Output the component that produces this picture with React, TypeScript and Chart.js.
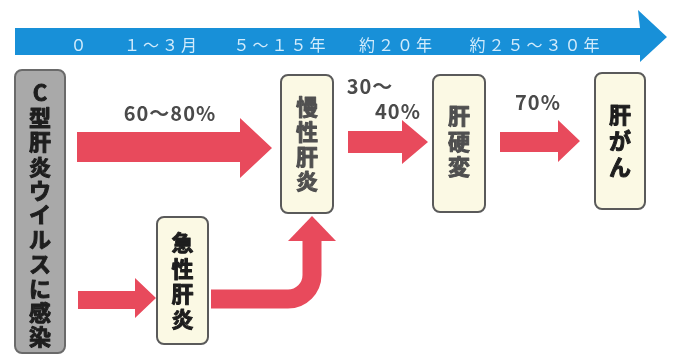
import { useEffect, useRef } from 'react';
import { Chart, registerables } from 'chart.js';

Chart.register(...registerables);

// ---- data ----
const timelineLabels = ['０', '１〜３月', '５〜１５年', '約２０年', '約２５〜３０年'];
const stageNames = ['C型肝炎ウイルスに感染', '急性肝炎', '慢性肝炎', '肝硬変', '肝がん'];
const transitionRates = ['60〜80%', '30〜', '40%', '70%'];

// ---- layout (in scale units; scales span 0..674 x 0..356) ----
const W = 674;
const H = 356;
const timelineX = [80, 162, 281, 397, 536];
const timelineY = 45;
// boxes: [x1, y1, x2, y2, charSpacing, firstCharY]
const boxLayout = [
  [15, 70, 65, 353, 24.4, 93],
  [157, 217, 208, 344, 25.3, 243],
  [281, 75, 333, 213, 24.7, 107],
  [433, 75, 485, 212, 25.5, 116],
  [595, 73, 645, 209, 26, 115],
];
const rateLayout = [
  [170, 113],
  [370, 86],
  [398, 111],
  [538, 102],
];
// straight arrows: [xStart, xTip, headBaseX, shaftTop, shaftBottom, headTop, headBottom]
const arrowLayout = [
  [77, 272, 240, 132, 162, 118, 178],
  [78, 156, 135, 291, 309, 278, 318],
  [348, 428, 402, 131, 153, 120, 164],
  [500, 580, 558, 132, 152, 120, 162],
];

const RED = '#e84a5c';

const diagramPlugin = {
  id: 'diagram',
  afterDraw(chart: any) {
    const ctx: CanvasRenderingContext2D = chart.ctx;
    const xs = chart.scales.x;
    const ys = chart.scales.y;
    const px = (v: number) => xs.getPixelForValue(v);
    const py = (v: number) => ys.getPixelForValue(v);
    ctx.save();

    // timeline arrow
    ctx.fillStyle = '#1890d8';
    ctx.beginPath();
    ctx.moveTo(px(15), py(28));
    ctx.lineTo(px(640), py(28));
    ctx.lineTo(px(638), py(10));
    ctx.lineTo(px(667), py(37));
    ctx.lineTo(px(640), py(62));
    ctx.lineTo(px(640), py(55));
    ctx.lineTo(px(15), py(55));
    ctx.closePath();
    ctx.fill();

    ctx.fillStyle = '#d2ebfb';
    ctx.font = '16px "Noto Sans CJK JP", sans-serif';
    (ctx as any).letterSpacing = '3px';
    ctx.textAlign = 'center';
    ctx.textBaseline = 'middle';
    timelineLabels.forEach((t, i) => {
      ctx.fillText(t, px(timelineX[i]), py(timelineY));
    });
    (ctx as any).letterSpacing = '0px';

    // straight arrows
    ctx.fillStyle = RED;
    arrowLayout.forEach(([x0, tip, hb, st, sb, ht, hbtm]) => {
      const mid = (ht + hbtm) / 2;
      ctx.beginPath();
      ctx.moveTo(px(x0), py(st));
      ctx.lineTo(px(hb), py(st));
      ctx.lineTo(px(hb), py(ht));
      ctx.lineTo(px(tip), py(mid));
      ctx.lineTo(px(hb), py(hbtm));
      ctx.lineTo(px(hb), py(sb));
      ctx.lineTo(px(x0), py(sb));
      ctx.closePath();
      ctx.fill();
    });

    // curved arrow from acute hepatitis up to chronic hepatitis
    ctx.strokeStyle = RED;
    ctx.lineWidth = 19;
    ctx.lineCap = 'butt';
    ctx.lineJoin = 'miter';
    ctx.beginPath();
    ctx.moveTo(px(211), py(299));
    ctx.arcTo(px(312), py(299), px(312), py(240), 24);
    ctx.lineTo(px(312), py(240));
    ctx.stroke();
    ctx.beginPath();
    ctx.moveTo(px(288), py(241));
    ctx.lineTo(px(312), py(216));
    ctx.lineTo(px(336), py(241));
    ctx.closePath();
    ctx.fill();

    // boxes
    boxLayout.forEach(([x1, y1, x2, y2, sp, fy], i) => {
      const first = i === 0;
      ctx.beginPath();
      (ctx as any).roundRect(px(x1), py(y1), px(x2) - px(x1), py(y2) - py(y1), 7);
      ctx.fillStyle = first ? '#a9a9a9' : '#fbf9e4';
      ctx.fill();
      ctx.lineWidth = 2;
      ctx.strokeStyle = first ? '#6a6a6a' : '#5a5a5a';
      ctx.stroke();

      const chars = Array.from(stageNames[i]);
      const col = i === 0 || i === 1 || i === 4 ? '#1e1e1e' : '#505050';
      ctx.fillStyle = col;
      ctx.strokeStyle = col;
      ctx.lineWidth = 1;
      ctx.lineJoin = 'round';
      ctx.font = 'bold 22px "Noto Sans CJK JP", sans-serif';
      ctx.textAlign = 'center';
      ctx.textBaseline = 'middle';
      const cx = (x1 + x2) / 2;
      chars.forEach((c, k) => {
        ctx.fillText(c, px(cx), py(fy + k * sp));
        ctx.strokeText(c, px(cx), py(fy + k * sp));
      });
    });

    // transition rates
    ctx.fillStyle = '#4a4a4a';
    ctx.font = 'bold 20px "Noto Sans CJK JP", sans-serif';
    (ctx as any).letterSpacing = '1px';
    ctx.textAlign = 'center';
    ctx.textBaseline = 'middle';
    transitionRates.forEach((t, i) => {
      ctx.fillText(t, px(rateLayout[i][0]), py(rateLayout[i][1]));
    });
    (ctx as any).letterSpacing = '0px';

    ctx.restore();
  },
};

export default function App() {
  const ref = useRef<HTMLCanvasElement | null>(null);
  useEffect(() => {
    document.body.style.margin = '0';
    document.body.style.background = '#ffffff';
    const canvas = ref.current;
    if (!canvas) return;
    const chart = new Chart(canvas, {
      type: 'scatter',
      data: { datasets: [{ data: [], pointRadius: 0 }] },
      options: {
        animation: false,
        responsive: false,
        devicePixelRatio: 1,
        layout: { padding: 0 },
        scales: {
          x: { type: 'linear', min: 0, max: W, display: false },
          y: { type: 'linear', min: 0, max: H, reverse: true, display: false },
        },
        plugins: { legend: { display: false }, tooltip: { enabled: false } },
      },
      plugins: [diagramPlugin],
    });
    return () => chart.destroy();
  }, []);
  return (
    <canvas ref={ref} width={W} height={H} style={{ display: 'block', width: W, height: H }} />
  );
}
